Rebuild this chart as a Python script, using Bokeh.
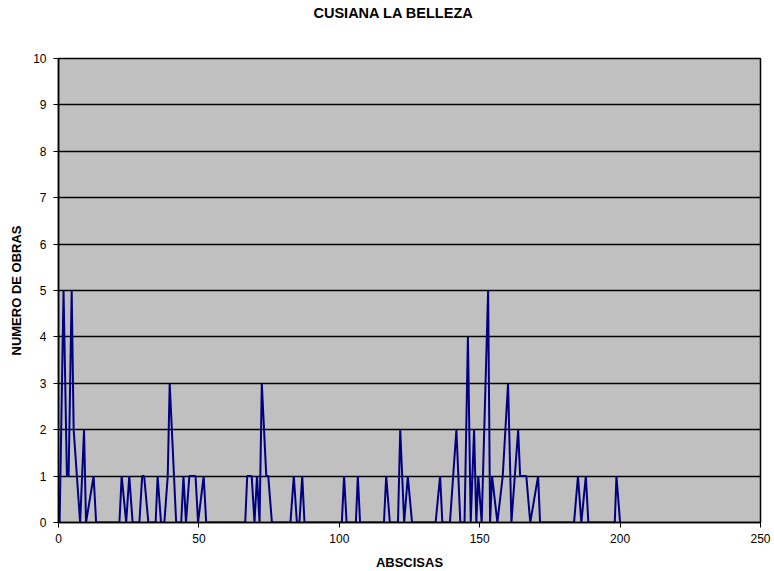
from bokeh.plotting import figure
from bokeh.models import Range1d, FixedTicker, Title
from bokeh.embed import file_html
from bokeh.resources import INLINE

# Abscissa positions and number of works
abscisas = [0.4, 1.8, 3.0, 3.6, 4.7, 5.4, 7.7, 9.1, 9.8, 12.5, 13.4,
            21.7, 22.5, 24.1, 25.2, 26.4, 28.8, 29.8, 30.5, 32.0, 34.6, 35.3, 36.5,
            37.7, 38.9, 39.6, 41.9, 43.7, 44.5, 45.4, 46.6, 48.8, 49.7, 51.7, 52.6,
            66.5, 67.2, 68.8, 69.8, 70.7, 71.6, 72.4, 74.0, 74.7, 76.0,
            82.6, 83.8, 84.9, 85.8, 86.8, 87.6,
            100.9, 101.7, 102.6, 105.9, 106.6, 107.4,
            115.9, 116.7, 118.0, 120.9, 121.7, 123.1, 124.4, 125.9,
            134.3, 135.9, 136.7, 139.4, 141.7, 143.1, 144.6, 145.8, 146.8, 148.0,
            148.8, 149.5, 150.7, 153.0, 153.7, 154.4, 156.3, 158.2, 160.1, 161.3,
            163.7, 164.4, 166.6, 168.0, 170.8, 171.5,
            183.6, 185.0, 186.2, 187.8, 188.7, 198.1, 198.7, 200.0]
obras = [0, 5, 1, 1, 5, 2, 0, 2, 0, 1, 0,
         0, 1, 0, 1, 0, 0, 1, 1, 0, 0, 1, 0,
         0, 1, 3, 0, 0, 1, 0, 1, 1, 0, 1, 0,
         0, 1, 1, 0, 1, 0, 3, 1, 1, 0,
         0, 1, 0, 0, 1, 0,
         0, 1, 0, 0, 1, 0,
         0, 1, 0, 0, 2, 0, 1, 0,
         0, 1, 0, 0, 2, 0, 0, 4, 0, 2,
         0, 1, 0, 5, 0, 1, 0, 1, 3, 0,
         2, 1, 1, 0, 1, 0,
         0, 1, 0, 1, 0, 0, 1, 0]

x_ticks = [0, 50, 100, 150, 200, 250]
y_ticks = list(range(0, 11))
titulo = "CUSIANA LA BELLEZA"

FONT = "Liberation Sans"

p = figure(frame_width=702, frame_height=464,
           min_border_left=58, min_border_right=14,
           min_border_top=58, min_border_bottom=49,
           x_range=Range1d(0, 250), y_range=Range1d(0, 10),
           output_backend="svg", toolbar_location=None)
p.title = None

p.border_fill_color = "white"

p.background_fill_color = "#C0C0C0"
p.outline_line_color = "black"
p.outline_line_width = 1.5

p.xgrid.visible = False
p.ygrid.ticker = FixedTicker(ticks=y_ticks)
p.ygrid.grid_line_color = "black"
p.ygrid.grid_line_width = 1.5

p.xaxis.ticker = FixedTicker(ticks=x_ticks)
p.yaxis.ticker = FixedTicker(ticks=y_ticks)
for ax in (p.xaxis, p.yaxis):
    ax.axis_line_color = "black"
    ax.axis_line_width = 1.5
    ax.major_tick_line_color = "black"
    ax.major_tick_out = 5
    ax.major_tick_in = 0
    ax.minor_tick_line_color = None
    ax.major_label_text_font = FONT
    ax.major_label_text_font_size = "12px"
    ax.major_label_text_color = "black"
    ax.axis_label_text_font = FONT
    ax.axis_label_text_font_size = "13px"
    ax.axis_label_text_font_style = "bold"
    ax.axis_label_text_color = "black"

p.xaxis.axis_label = "ABSCISAS"
p.yaxis.axis_label = "NUMERO DE OBRAS"
p.xaxis.major_label_standoff = 6
p.yaxis.major_label_standoff = 7
p.xaxis.axis_label_standoff = 9
p.yaxis.axis_label_standoff = 6

p.line(abscisas, obras, line_color="#000080", line_width=2)

# blank spacer panel next to the frame, then the real title above it
p.add_layout(Title(text=" ", standoff=25, text_font_size="10px"), "above")
p.add_layout(Title(text=titulo, align="left", offset=255, standoff=0,
                   text_font=FONT, text_font_size="14.5px",
                   text_font_style="bold", text_color="black"), "above")

open("out.html", "w").write(file_html(p, INLINE))
